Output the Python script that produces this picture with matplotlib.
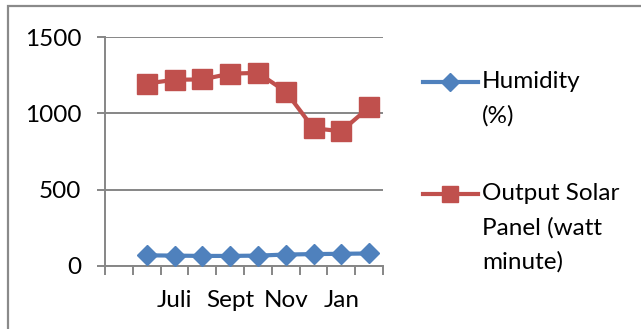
import numpy as np
import matplotlib
matplotlib.use('Agg')
import matplotlib.pyplot as plt
from matplotlib.lines import Line2D
from matplotlib.patches import Rectangle

# chart data (first category slot is empty in the source chart)
months = ['', 'Juni', 'Juli', 'Agust', 'Sept', 'Okt', 'Nov', 'Des', 'Jan', 'Feb']
humidity = [np.nan, 70, 68, 66, 66, 68, 75, 78, 80, 82]
solar_output = [np.nan, 1195, 1220, 1222, 1260, 1265, 1143, 902, 883, 1040]
y_ticks = [0, 500, 1000, 1500]

BLUE = '#4F81BD'
RED = '#C0504D'
GRID = '#868686'
FONT = 'Lato'
FS = 17.5
LW = 3

plt.rcParams['font.family'] = [FONT, 'DejaVu Sans']

W, H = 641, 329
fig = plt.figure(figsize=(W / 100, H / 100), dpi=100)

def fx(px):
    return px / W

def fy(px):
    return 1 - px / H

# plot area
ax = fig.add_axes([fx(105), fy(266), fx(383) - fx(105), fy(37) - fy(266)])
x = np.arange(1, len(months) + 1)

ax.plot(x, humidity, color=BLUE, lw=LW, marker='D', ms=10.5, mec=BLUE, mfc=BLUE, zorder=3)
ax.plot(x, solar_output, color=RED, lw=LW, marker='s', ms=14, mec=RED, mfc=RED, zorder=3)

ax.set_xlim(0.5, len(months) + 0.5)
ax.set_ylim(0, 1500)
ax.set_yticks(y_ticks)
ax.set_yticklabels([str(v) for v in y_ticks])
ax.yaxis.grid(True, color=GRID, lw=1.4)
ax.set_axisbelow(True)

# category labels every other slot, ticks at category boundaries
ax.set_xticks(x)
ax.set_xticklabels([m if i % 2 == 0 else '' for i, m in enumerate(months)])
ax.set_xticks(np.arange(0.5, len(months) + 1, 1), minor=True)
ax.tick_params(axis='x', which='major', length=0, pad=17, labelsize=FS)
ax.tick_params(axis='x', which='minor', length=6.5, width=1.4, color=GRID)
ax.tick_params(axis='y', length=6, width=1.4, color=GRID, pad=11, labelsize=FS)

for side in ['top', 'right']:
    ax.spines[side].set_visible(False)
for side in ['left', 'bottom']:
    ax.spines[side].set_color(GRID)
    ax.spines[side].set_linewidth(1.4)

# legend drawn by hand to copy the Excel layout
legend_items = [
    (BLUE, 'D', 9, ['Humidity', '(%)'], 82),
    (RED, 's', 12, ['Output Solar', 'Panel (watt', 'minute)'], 194),
]
for color, mk, size, lines, ypx in legend_items:
    fig.add_artist(Line2D([fx(423), fx(478)], [fy(ypx), fy(ypx)], color=color, lw=LW,
                          transform=fig.transFigure))
    fig.add_artist(Line2D([fx(450)], [fy(ypx)], color=color, marker=mk, ms=size,
                          transform=fig.transFigure))
    for k, line in enumerate(lines):
        fig.text(fx(482), fy(ypx + 34 * k), line, fontsize=FS, va='center', ha='left')

# outer chart border
fig.add_artist(Rectangle((fx(8), -0.1), 1.2, fy(6) + 0.1, fill=False, ec='#8a8a8a', lw=1.6,
                         transform=fig.transFigure, clip_on=False))

fig.savefig('out.png', dpi=100)
